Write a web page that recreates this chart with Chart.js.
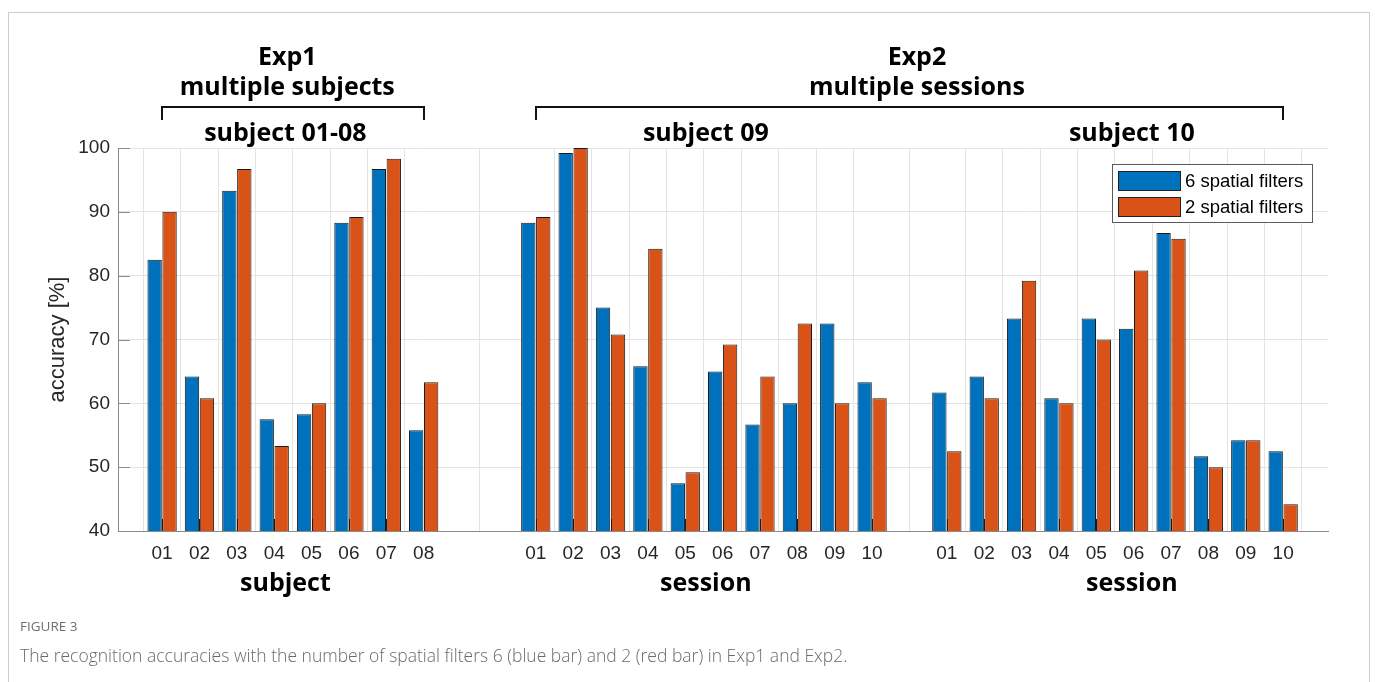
<!DOCTYPE html>
<html>
<head>
<meta charset="utf-8">
<title>Recognition accuracies</title>
<script src="https://cdn.jsdelivr.net/npm/chart.js@4.4.0/dist/chart.umd.min.js"></script>
<style>
  html, body { margin: 0; padding: 0; background: #fff; width: 1375px; height: 682px; overflow: hidden; }
  #card { position: absolute; left: 8px; top: 12px; width: 1362px; height: 720px; border: 1.5px solid #cdcdcd; box-sizing: border-box; }
  #wrap { position: absolute; left: 0; top: 0; width: 1375px; height: 682px; }
  #figno { position: absolute; left: 20px; top: 617px; font: 13.5px "Open Sans", sans-serif; line-height: 18px; color: #6e6e6e; }
  #caption { position: absolute; left: 20px; top: 643px; font: 300 17.5px "Open Sans", sans-serif; line-height: 24px; color: #6a6a6a; white-space: nowrap; }
</style>
</head>
<body>
<div id="card"></div>
<div id="wrap"><canvas id="chart" width="1375" height="682"></canvas></div>
<div id="figno">FIGURE 3</div>
<div id="caption">The recognition accuracies with the number of spatial filters 6 (blue bar) and 2 (red bar) in Exp1 and Exp2.</div>
<script>
// Tick labels
const subjectTicks = ['01', '02', '03', '04', '05', '06', '07', '08'];
const sessionTicks = ['01', '02', '03', '04', '05', '06', '07', '08', '09', '10'];
const yTicks = [40, 50, 60, 70, 80, 90, 100];

// Series names
const seriesNames = ['6 spatial filters', '2 spatial filters'];

// Exp1: subjects 01-08, accuracy [%]
const exp1SixFilters = [82.5, 64.2, 93.3, 57.5, 58.3, 88.3, 96.7, 55.8];
const exp1TwoFilters = [90.0, 60.8, 96.7, 53.3, 60.0, 89.2, 98.3, 63.3];

// Exp2: subject 09, sessions 01-10
const s09SixFilters = [88.3, 99.2, 75.0, 65.8, 47.5, 65.0, 56.7, 60.0, 72.5, 63.3];
const s09TwoFilters = [89.2, 100.0, 70.8, 84.2, 49.2, 69.2, 64.2, 72.5, 60.0, 60.8];

// Exp2: subject 10, sessions 01-10
const s10SixFilters = [61.7, 64.2, 73.3, 60.8, 73.3, 71.7, 86.7, 51.7, 54.2, 52.5];
const s10TwoFilters = [52.5, 60.8, 79.2, 60.0, 70.0, 80.8, 85.8, 50.0, 54.2, 44.2];

// Group headings
const groupTitles = ['subject 01-08', 'subject 09', 'subject 10'];
const groupAxisNames = ['subject', 'session', 'session'];
const expTitles = [['Exp1', 'multiple subjects'], ['Exp2', 'multiple sessions']];

// Layout of the three groups along a shared x axis (slot index of first bar pair)
const groups = [
  { ticks: subjectTicks, six: exp1SixFilters, two: exp1TwoFilters, start: 0 },
  { ticks: sessionTicks, six: s09SixFilters, two: s09TwoFilters, start: 10 },
  { ticks: sessionTicks, six: s10SixFilters, two: s10TwoFilters, start: 21 }
];

const tickText = new Map();
const tickPositions = [];
const sixPoints = [];
const twoPoints = [];
groups.forEach(g => {
  g.ticks.forEach((lab, i) => {
    const x = g.start + i;
    tickText.set(x, lab);
    tickPositions.push(x);
    sixPoints.push({ x, y: g.six[i] });
    twoPoints.push({ x, y: g.two[i] });
  });
});

const BLUE = '#0072BD';
const RED = '#D95319';
const TICK_FONT = '"Liberation Sans", Arial, sans-serif';
const BOLD_FONT = '"Open Sans", "Noto Sans", sans-serif';

const decorations = {
  id: 'decorations',
  afterDatasetsDraw(chart) {
    const { ctx, chartArea: a, scales: { x, y } } = chart;
    ctx.save();
    // inward tick marks
    ctx.lineWidth = 1;
    ctx.strokeStyle = '#1a1a1a';
    tickPositions.forEach(v => {
      const px = Math.round(x.getPixelForValue(v)) + 0.5;
      ctx.beginPath();
      ctx.moveTo(px, a.bottom);
      ctx.lineTo(px, a.bottom - 12);
      ctx.stroke();
    });
    ctx.strokeStyle = '#8a8a8a';
    yTicks.forEach(v => {
      const py = Math.round(y.getPixelForValue(v)) + 0.5;
      ctx.beginPath();
      ctx.moveTo(a.left, py);
      ctx.lineTo(a.left + 12, py);
      ctx.stroke();
    });
    ctx.restore();
  },
  afterDraw(chart) {
    const { ctx, chartArea: a, scales: { x } } = chart;
    const px = v => x.getPixelForValue(v);
    ctx.save();
    ctx.fillStyle = '#000';
    ctx.textAlign = 'center';
    ctx.textBaseline = 'alphabetic';
    ctx.font = 'bold 25px ' + BOLD_FONT;

    // experiment headings
    const expCenters = [3.35, 20.2];
    expTitles.forEach((lines, i) => {
      ctx.fillText(lines[0], px(expCenters[i]), 65);
      ctx.fillText(lines[1], px(expCenters[i]), 95);
    });

    // brackets spanning each experiment
    ctx.strokeStyle = '#111';
    ctx.lineWidth = 2;
    const spans = [[0, 7], [10, 30]];
    spans.forEach(([s, e]) => {
      const x0 = Math.round(px(s)), x1 = Math.round(px(e));
      ctx.beginPath();
      ctx.moveTo(x0, 120);
      ctx.lineTo(x0, 107);
      ctx.lineTo(x1, 107);
      ctx.lineTo(x1, 120);
      ctx.stroke();
    });

    // group titles above the plot and axis names below
    const titleCenters = [3.3, 14.55, 25.95];
    groupTitles.forEach((t, i) => ctx.fillText(t, px(titleCenters[i]), 141));
    groupAxisNames.forEach((t, i) => ctx.fillText(t, px(titleCenters[i]), 591));

    // y axis title
    ctx.save();
    ctx.translate(58, (a.top + a.bottom) / 2);
    ctx.rotate(-Math.PI / 2);
    ctx.textBaseline = 'middle';
    ctx.fillStyle = '#262626';
    ctx.font = '22px ' + TICK_FONT;
    ctx.fillText('accuracy [%]', 0, 0);
    ctx.restore();

    // legend
    const lx = 1112.5, ly = 164.5, lw = 200, lh = 58;
    ctx.fillStyle = '#fff';
    ctx.fillRect(lx, ly, lw, lh);
    ctx.strokeStyle = '#5a5a5a';
    ctx.lineWidth = 1;
    ctx.strokeRect(lx, ly, lw, lh);
    ctx.font = '18.5px ' + TICK_FONT;
    ctx.textAlign = 'left';
    ctx.textBaseline = 'middle';
    chart.data.datasets.forEach((ds, i) => {
      const sy = 171.5 + i * 26;
      ctx.fillStyle = ds.backgroundColor;
      ctx.fillRect(1118.5, sy, 62, 19);
      ctx.strokeStyle = '#222';
      ctx.strokeRect(1118.5, sy, 62, 19);
      ctx.fillStyle = '#000';
      ctx.fillText(ds.label, 1185, sy + 10);
    });
    ctx.restore();
  }
};

new Chart(document.getElementById('chart'), {
  type: 'bar',
  data: {
    datasets: [
      { label: seriesNames[0], data: sixPoints, backgroundColor: BLUE, borderColor: '#1a1a1a', borderWidth: 1 },
      { label: seriesNames[1], data: twoPoints, backgroundColor: RED, borderColor: '#1a1a1a', borderWidth: 1 }
    ]
  },
  options: {
    responsive: false,
    animation: false,
    devicePixelRatio: 1,
    categoryPercentage: 0.8,
    barPercentage: 0.96,
    layout: { padding: { left: 0, right: 47, top: 148, bottom: 0 } },
    plugins: { legend: { display: false }, tooltip: { enabled: false } },
    scales: {
      x: {
        type: 'linear',
        min: -1.18,
        max: 31.2,
        offset: false,
        afterBuildTicks: s => { s.ticks = tickPositions.map(v => ({ value: v })); },
        afterFit: s => { s.height = 151; },
        grid: { color: '#e4e4e4', drawTicks: false },
        border: { display: true, color: '#8a8a8a', width: 1 },
        ticks: {
          autoSkip: false,
          maxRotation: 0,
          padding: 11,
          color: '#262626',
          font: { family: TICK_FONT, size: 19 },
          callback: v => tickText.get(v) ?? ''
        }
      },
      y: {
        min: 40,
        max: 100,
        afterBuildTicks: s => { s.ticks = yTicks.map(v => ({ value: v })); },
        afterFit: s => { s.width = 118; },
        grid: { color: '#e4e4e4', drawTicks: false },
        border: { display: true, color: '#8a8a8a', width: 1 },
        ticks: {
          padding: 8,
          color: '#262626',
          font: { family: TICK_FONT, size: 19 }
        }
      }
    }
  },
  plugins: [decorations]
});
</script>
</body>
</html>
